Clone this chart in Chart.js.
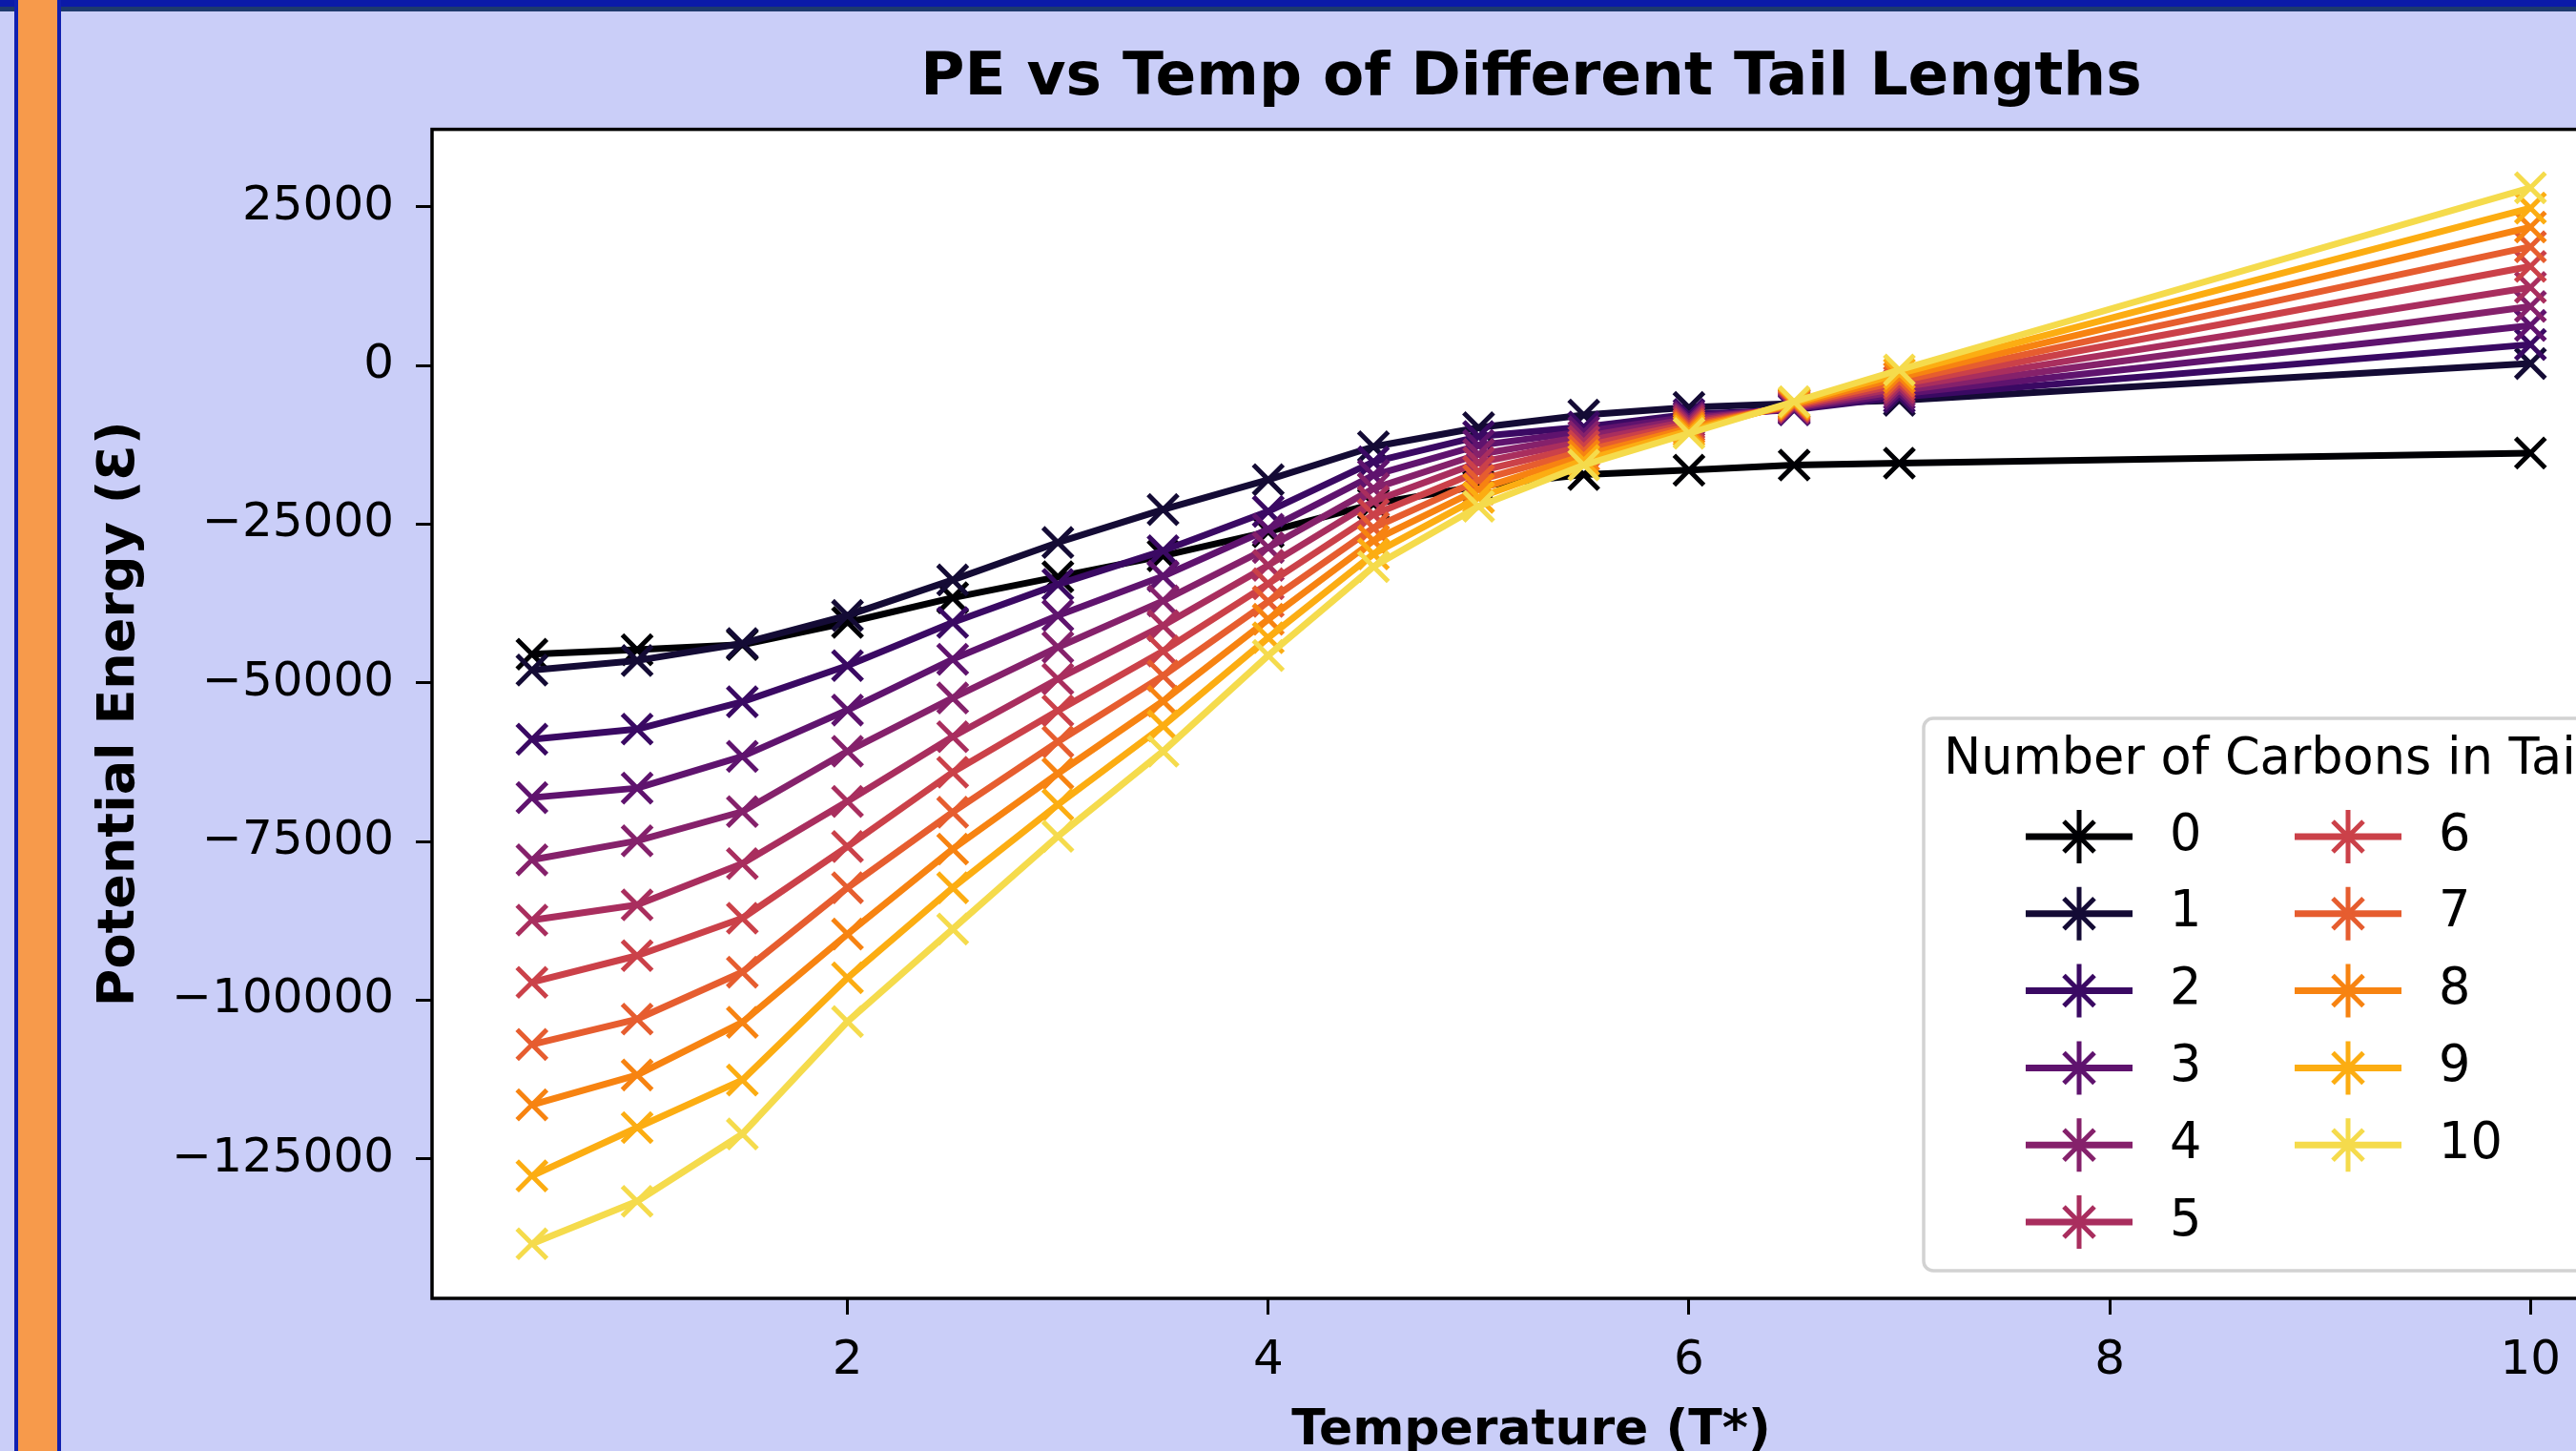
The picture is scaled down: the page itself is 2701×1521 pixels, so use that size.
<!DOCTYPE html>
<html>
<head>
<meta charset="utf-8">
<script src="https://cdn.jsdelivr.net/npm/chart.js@4.4.1/dist/chart.umd.min.js"></script>
<style>
  html, body { margin: 0; padding: 0; overflow: hidden; background: #cacef8; width: 2701px; height: 1521px; }
  #topbar { position: absolute; left: 0; top: 0; width: 2701px; height: 7px; background: #0b1aa8; }
  #topline { position: absolute; left: 0; top: 7px; width: 2701px; height: 5px; background: #1e3a6c; }
  #stripe { position: absolute; left: 15px; top: 0; width: 41px; height: 1521px; background: #f79a4b;
            border-left: 4px solid #1020b0; border-right: 4px solid #1020b0; }
  canvas { position: absolute; left: 0; top: 0; }
</style>
</head>
<body>
<canvas id="pe-chart" width="3210" height="1560"></canvas>
<div id="topbar"></div>
<div id="topline"></div>
<div id="stripe"></div>
<script>
// Temperatures (T*) and potential energy for each tail length
var temps = [0.5, 1, 1.5, 2, 2.5, 3, 3.5, 4, 4.5, 5, 5.5, 6, 6.5, 7, 10];
var carbons = ['0', '1', '2', '3', '4', '5', '6', '7', '8', '9', '10'];

var pe0  = [-45500, -44800, -44000, -40500, -36600, -33300, -30000, -26200, -21800, -19000, -17200, -16500, -15700, -15400, -13800];
var pe1  = [-48000, -46500, -43800, -39400, -33800, -27900, -22700, -18000, -12800, -9800, -7800, -6600, -6000, -5500, 300];
var pe2  = [-58900, -57300, -53000, -47300, -40500, -34500, -29200, -23000, -15200, -11200, -9700, -7700, -7000, -5000, 3300];
var pe3  = [-68100, -66600, -61600, -54300, -46300, -39400, -33200, -25800, -17300, -12600, -10450, -8100, -6850, -4500, 6300];
var pe4  = [-77900, -74900, -70300, -60800, -52400, -44400, -37100, -28700, -19400, -14000, -11200, -8450, -6700, -4000, 9300];
var pe5  = [-87400, -85000, -78500, -68700, -58500, -49400, -41000, -31500, -21400, -15300, -11950, -8800, -6550, -3500, 12300];
var pe6  = [-97200, -93000, -87100, -75800, -64100, -54400, -45000, -34400, -23500, -16700, -12700, -9200, -6400, -3000, 15600];
var pe7  = [-107000, -103000, -95600, -82300, -70400, -59300, -48900, -37200, -25600, -18100, -13450, -9550, -6250, -2500, 18700];
var pe8  = [-116500, -111800, -103500, -89600, -76200, -64300, -52900, -40000, -27600, -19500, -14200, -9900, -6100, -1900, 21800];
var pe9  = [-127700, -120100, -112600, -96500, -82300, -69200, -56800, -42900, -29700, -20800, -14950, -10300, -5900, -1300, 24800];
var pe10 = [-138400, -131700, -121100, -103400, -88800, -74200, -60800, -45700, -31700, -22200, -15700, -10700, -5700, -700, 28000];
var peSeries = [pe0, pe1, pe2, pe3, pe4, pe5, pe6, pe7, pe8, pe9, pe10];

var xTicks = [2, 4, 6, 8, 10];
var yTicks = [-125000, -100000, -75000, -50000, -25000, 0, 25000];

// inferno colours
var colors = ['#000004', '#140b35', '#3a0963', '#5f136e', '#85216b', '#a92e5e',
              '#cb4149', '#e65d2f', '#f78311', '#fcad12', '#f5db4c'];

Chart.defaults.font.family = '"DejaVu Sans", sans-serif';
Chart.defaults.color = '#000';

// white plot area + black frame
var framePlugin = {
  id: 'frame',
  beforeDraw: function (chart) {
    var a = chart.chartArea, ctx = chart.ctx;
    ctx.save();
    ctx.fillStyle = '#ffffff';
    ctx.fillRect(a.left, a.top, a.right - a.left, a.bottom - a.top);
    ctx.restore();
  },
  afterDatasetsDraw: function (chart) {
    var a = chart.chartArea, ctx = chart.ctx;
    ctx.save();
    ctx.strokeStyle = '#000';
    ctx.lineWidth = 3.5;
    ctx.strokeRect(a.left, a.top, a.right - a.left, a.bottom - a.top);
    ctx.restore();
  }
};

// two column legend like matplotlib
var legendPlugin = {
  id: 'carbonLegend',
  afterDraw: function (chart) {
    var ctx = chart.ctx;
    ctx.save();
    ctx.beginPath();
    ctx.roundRect(2017, 753, 1000, 579, 10);
    ctx.fillStyle = 'rgba(255,255,255,0.85)';
    ctx.fill();
    ctx.strokeStyle = '#d2d2d2';
    ctx.lineWidth = 3.5;
    ctx.stroke();

    ctx.fillStyle = '#000';
    ctx.font = '52.5px "DejaVu Sans"';
    ctx.textBaseline = 'middle';
    ctx.textAlign = 'left';
    ctx.fillText('Number of Carbons in Tail', 2038, 797);

    chart.data.datasets.forEach(function (ds, i) {
      var col = i < 6 ? 0 : 1;
      var row = i < 6 ? i : i - 6;
      var lx = col ? 2406 : 2124;
      var y = 877 + row * 80.8;
      var cx = lx + 56;
      ctx.strokeStyle = ds.borderColor;
      ctx.lineWidth = 7;
      ctx.beginPath();
      ctx.moveTo(lx, y);
      ctx.lineTo(lx + 112, y);
      ctx.stroke();
      ctx.lineWidth = 5;
      ctx.beginPath();
      ctx.moveTo(cx, y - 28); ctx.lineTo(cx, y + 28);
      ctx.moveTo(cx - 16, y - 16); ctx.lineTo(cx + 16, y + 16);
      ctx.moveTo(cx - 16, y + 16); ctx.lineTo(cx + 16, y - 16);
      ctx.stroke();
      ctx.fillStyle = '#000';
      ctx.fillText(ds.label, col ? 2557 : 2275, y);
    });
    ctx.restore();
  }
};

var ctx = document.getElementById('pe-chart').getContext('2d');
var peChart = new Chart(ctx, {
  type: 'line',
  data: {
    datasets: peSeries.map(function (vals, i) {
      return {
        label: carbons[i],
        data: vals.map(function (v, j) { return { x: temps[j], y: v }; }),
        borderColor: colors[i],
        backgroundColor: colors[i],
        borderWidth: 7,
        borderJoinStyle: 'round',
        pointStyle: 'crossRot',
        pointRadius: 22,
        pointBorderWidth: 5,
        pointBorderColor: colors[i],
        pointBackgroundColor: colors[i],
        tension: 0,
        order: 10 - i,
        clip: false
      };
    })
  },
  options: {
    responsive: false,
    animation: false,
    events: [],
    layout: { padding: { left: 0, top: 0, bottom: 0, right: 452 } },
    plugins: {
      legend: { display: false },
      tooltip: { enabled: false },
      title: {
        display: true,
        fullSize: false,
        text: 'PE vs Temp of Different Tail Lengths',
        color: '#000',
        font: { size: 63, weight: 'bold' },
        padding: { top: 45, bottom: 15 }
      }
    },
    scales: {
      x: {
        type: 'linear',
        min: 0.025,
        max: 10.475,
        afterBuildTicks: function (axis) { axis.ticks = xTicks.map(function (v) { return { value: v }; }); },
        afterFit: function (axis) { axis.height = 199; },
        grid: { drawOnChartArea: false, drawTicks: true, tickLength: 17, tickWidth: 3, tickColor: '#000' },
        border: { display: false },
        ticks: { color: '#000', font: { size: 50 }, padding: 19, maxRotation: 0, autoSkip: false },
        title: {
          display: true,
          text: 'Temperature (T*)',
          color: '#000',
          font: { size: 52, weight: 'bold' },
          padding: { top: 0, bottom: 28 }
        }
      },
      y: {
        type: 'linear',
        min: -147000,
        max: 37200,
        afterBuildTicks: function (axis) { axis.ticks = yTicks.map(function (v) { return { value: v }; }); },
        afterFit: function (axis) { axis.width = 453; },
        grid: { drawOnChartArea: false, drawTicks: true, tickLength: 17, tickWidth: 3, tickColor: '#000' },
        border: { display: false },
        ticks: {
          color: '#000',
          font: { size: 50 },
          padding: 23,
          autoSkip: false,
          callback: function (v) { return v < 0 ? '\u2212' + Math.abs(v) : String(v); }
        },
        title: {
          display: true,
          text: 'Potential Energy (\u0190)',
          color: '#000',
          font: { size: 54, weight: 'bold' },
          padding: { top: 94, bottom: 0 }
        }
      }
    }
  },
  plugins: [framePlugin, legendPlugin]
});
</script>
</body>
</html>
